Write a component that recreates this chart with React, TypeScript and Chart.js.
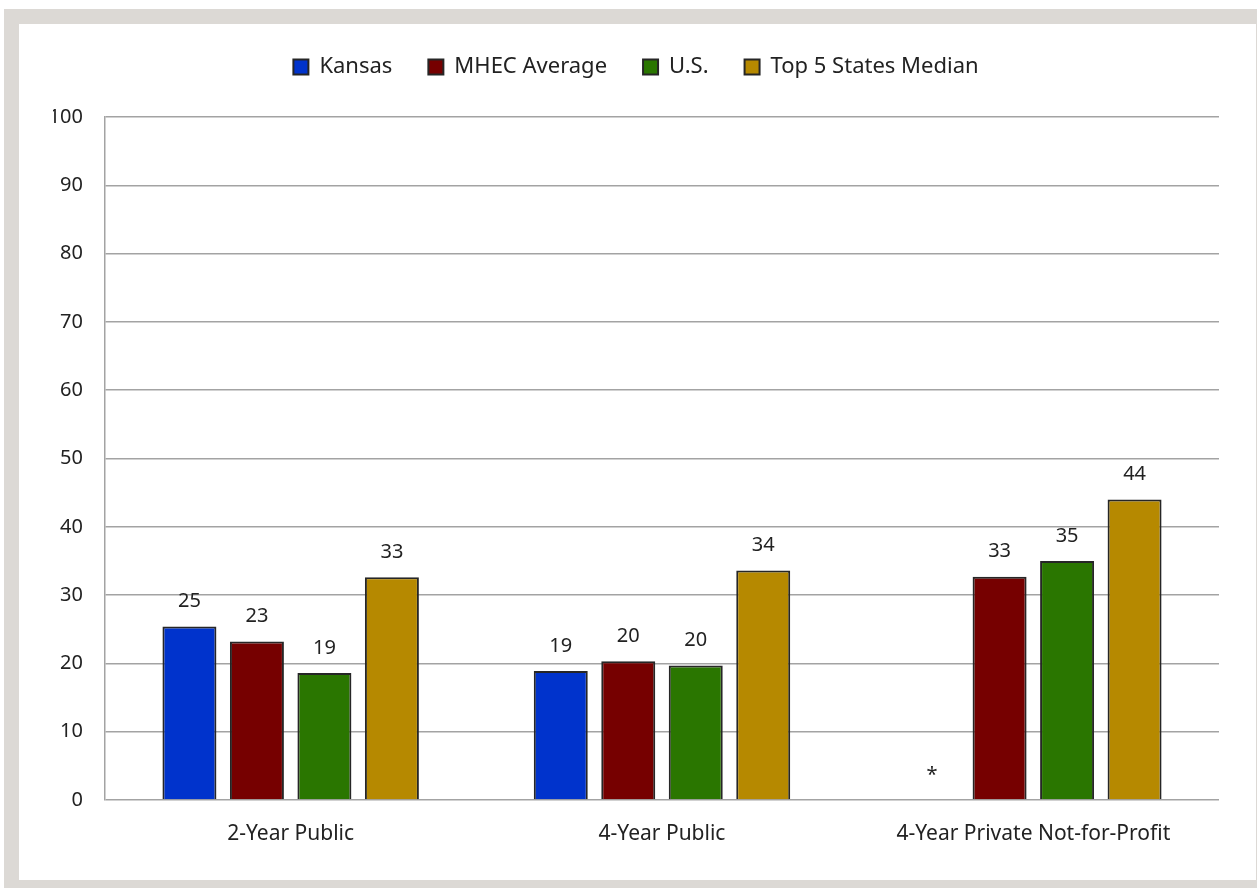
import React, { useEffect, useRef } from "react";
import { Chart, registerables } from "chart.js";

Chart.register(...registerables);

// ---- data ----
const categories = ["2-Year Public", "4-Year Public", "4-Year Private Not-for-Profit"];
const seriesNames = ["Kansas", "MHEC Average", "U.S.", "Top 5 States Median"];
const kansas: (number | null)[] = [25.4, 18.9, null];
const mhecAverage: (number | null)[] = [23.2, 20.3, 32.7];
const usValues: (number | null)[] = [18.6, 19.7, 35.0];
const top5Median: (number | null)[] = [32.6, 33.6, 44.0];
const seriesColors = ["#0033cc", "#760000", "#2a7600", "#b68900"];
const yMin = 0;
const yMax = 100;
const yStep = 10;

// ---- style ----
const FONT = "'Noto Sans'";
const TEXT = "#222222";
const GRID = "#a3a3a3";
const BAR_BORDER = "#262626";
const LEGEND_HEIGHT = 93;
const LEGEND_TOP = -4;

const legendFix = {
  id: "legendFix",
  beforeUpdate(chart: any) {
    const lg = chart.legend;
    if (lg && !lg.__patched) {
      const orig = lg.fit.bind(lg);
      lg.fit = function () {
        orig();
        this.height = LEGEND_HEIGHT;
      };
      lg.__patched = true;
    }
  },
  afterLayout(chart: any) {
    const lg = chart.legend;
    if (lg) {
      lg.top = LEGEND_TOP;
      lg.bottom = LEGEND_TOP + lg.height;
    }
  },
};

const barLabels = {
  id: "barLabels",
  afterDatasetsDraw(chart: any) {
    const { ctx } = chart;
    const yScale = chart.scales.y;
    ctx.save();
    ctx.font = `20px ${FONT}`;
    ctx.fillStyle = TEXT;
    ctx.textAlign = "center";
    ctx.textBaseline = "middle";
    chart.data.datasets.forEach((ds: any, di: number) => {
      const meta = chart.getDatasetMeta(di);
      meta.data.forEach((bar: any, i: number) => {
        const v = ds.data[i];
        const y = yScale.getPixelForValue(v == null ? 0 : v) - 25;
        const txt = v == null ? "*" : String(Math.round(v));
        ctx.fillText(txt, bar.x, y);
      });
    });
    ctx.restore();
  },
};

export default function App() {
  const ref = useRef<HTMLCanvasElement | null>(null);

  useEffect(() => {
    if (!ref.current) return;
    const allSeries = [kansas, mhecAverage, usValues, top5Median];
    const chart = new Chart(ref.current, {
      type: "bar",
      data: {
        labels: categories,
        datasets: allSeries.map((data, i) => ({
          label: seriesNames[i],
          data: data as any,
          backgroundColor: seriesColors[i],
          borderColor: BAR_BORDER,
          borderWidth: 2,
          categoryPercentage: 0.727,
          barPercentage: 0.8,
        })),
      },
      options: {
        animation: false,
        responsive: false,
        maintainAspectRatio: false,
        layout: { padding: { left: 34, right: 34, top: 0, bottom: 0 } },
        plugins: {
          legend: {
            position: "top",
            align: "center",
            labels: {
              boxWidth: 15,
              boxHeight: 15,
              padding: 36,
              color: TEXT,
              font: { family: FONT, size: 22 },
            },
          },
          tooltip: { enabled: false },
        },
        scales: {
          x: {
            grid: { display: false, drawTicks: false },
            border: { display: false },
            ticks: { padding: 21, color: TEXT, font: { family: FONT, size: 21 } },
            afterFit: (s: any) => {
              s.height = 80;
            },
          },
          y: {
            min: yMin,
            max: yMax,
            ticks: { stepSize: yStep, padding: 22, color: TEXT, font: { family: FONT, size: 20 } },
            grid: { color: GRID, lineWidth: 1.5, drawTicks: false },
            border: { display: true, color: GRID, width: 1.5 },
            afterFit: (s: any) => {
              s.width = 52;
            },
          },
        },
      },
      plugins: [legendFix, barLabels],
    });
    return () => chart.destroy();
  }, []);

  return (
    <div
      style={{
        position: "fixed",
        left: 4,
        top: 9,
        width: 1253,
        height: 879,
        background: "#dcd9d5",
      }}
    >
      <div
        style={{
          position: "absolute",
          left: 15,
          top: 15,
          width: 1237,
          height: 856,
          background: "#ffffff",
        }}
      >
        <canvas ref={ref} width={1234} height={856} style={{ display: "block" }} />
      </div>
    </div>
  );
}
